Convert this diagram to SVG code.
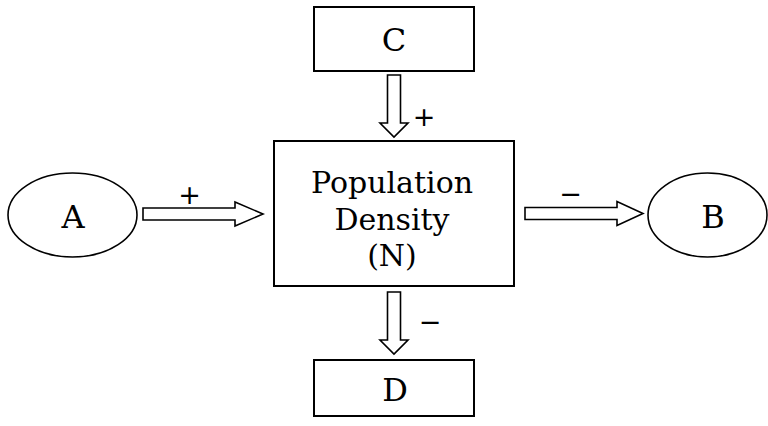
<svg xmlns="http://www.w3.org/2000/svg" width="768" height="426" viewBox="0 0 768 426">
<style>
.box{fill:#fff;stroke:#000;stroke-width:2}
.oval{fill:#fff;stroke:#000;stroke-width:1.6}
.arr{fill:#fff;stroke:#000;stroke-width:1.6;stroke-linejoin:miter}
.lbl{font-family:"DejaVu Serif","Liberation Serif",serif;font-size:32px;fill:#000;text-anchor:middle}
.body{font-family:"DejaVu Serif","Liberation Serif",serif;font-size:30px;fill:#000;text-anchor:middle}
.sign{font-family:"DejaVu Sans","Liberation Sans",sans-serif;font-size:27px;fill:#000;text-anchor:middle}
</style>
<rect width="768" height="426" fill="#fff"/>
<g id="connectors">
<polygon class="arr" points="143,208 235,208 235,202 263,214 235,226 235,220 143,220"/>
<polygon class="arr" points="525,207.5 617,207.5 617,201.5 643,213.5 617,225.5 617,219.5 525,219.5"/>
<polygon class="arr" points="387.5,75 400.5,75 400.5,123 408,123 394,137 380,123 387.5,123"/>
<polygon class="arr" points="387.5,292 400.5,292 400.5,340 408,340 394,354 380,340 387.5,340"/>
<text class="sign" x="189.5" y="204">+</text>
<text class="sign" x="424" y="126">+</text>
<text class="sign" x="570.5" y="203">−</text>
<text class="sign" x="430" y="331">−</text>
</g>
<g id="node-A">
<ellipse class="oval" cx="72.5" cy="215" rx="64.5" ry="42"/>
<text class="lbl" x="73" y="228">A</text>
</g>
<g id="node-B">
<ellipse class="oval" cx="707.5" cy="215" rx="59.5" ry="42"/>
<text class="lbl" x="713" y="228">B</text>
</g>
<g id="node-C">
<rect class="box" x="314" y="7" width="160" height="64"/>
<text class="lbl" x="394" y="51">C</text>
</g>
<g id="node-N">
<rect class="box" x="274" y="141" width="240" height="145"/>
<text class="body" x="392" y="193">Population</text>
<text class="body" x="392" y="230">Density</text>
<text class="body" x="392" y="266">(N)</text>
</g>
<g id="node-D">
<rect class="box" x="314" y="360" width="160" height="56"/>
<text class="lbl" x="395" y="401">D</text>
</g>
</svg>
